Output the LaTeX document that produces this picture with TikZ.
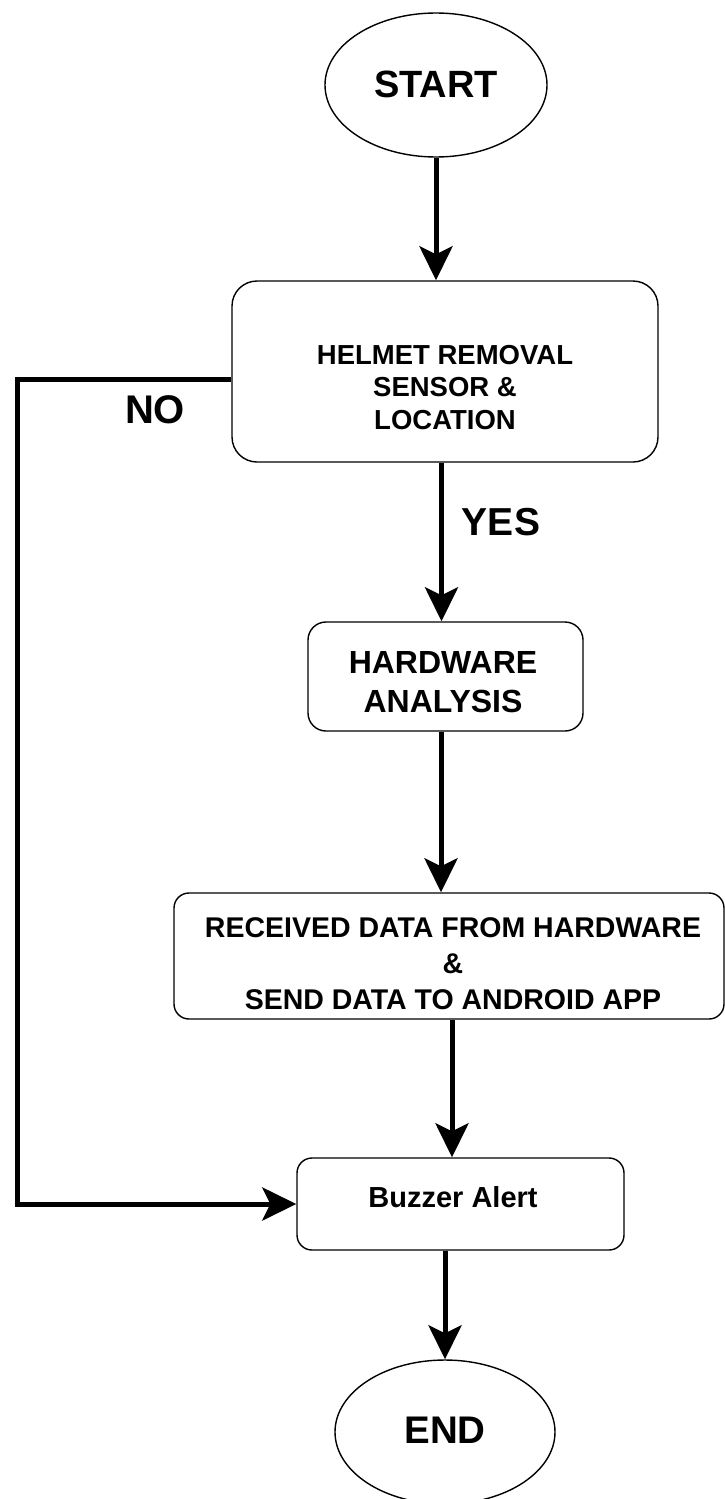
\documentclass[tikz,border=0pt]{standalone}
\usepackage{fontspec}
\setmainfont{Liberation Sans}
\usetikzlibrary{shapes.geometric,arrows.meta}
\begin{document}
\begin{tikzpicture}[x=1pt,y=-1pt,
  flow/.style={line width=5pt, line join=miter,
    -{Stealth[length=34pt,width=33pt,inset=8pt]}},
  term/.style={draw, line width=1.4pt, ellipse, inner sep=0pt},
  procbox/.style={draw, line width=1.4pt, inner sep=0pt},
  txt/.style={inner sep=0pt, align=center, font=\bfseries}
]
\useasboundingbox (0,0) rectangle (725,1499);

% shapes
\node[term, minimum width=222pt, minimum height=144pt] (start) at (436,85) {};
\node[procbox, rounded corners=25pt, minimum width=426pt, minimum height=181pt] (helmet) at (445,371.5) {};
\node[procbox, rounded corners=18pt, minimum width=275pt, minimum height=109pt] (hw) at (445.5,676.5) {};
\node[procbox, rounded corners=15pt, minimum width=550pt, minimum height=126pt] (recv) at (449,956) {};
\node[procbox, rounded corners=15pt, minimum width=327pt, minimum height=92pt] (buzz) at (460.5,1204) {};
\node[term, minimum width=220pt, minimum height=144pt] (end) at (445,1432) {};

% texts
\node[txt, font=\bfseries\fontsize{38}{44}\selectfont] (starttxt) at (436,84) {START};
\node[txt, font=\bfseries\fontsize{27.5}{32.5}\selectfont] (helmettxt) at (445,387.5) {HELMET REMOVAL\\SENSOR \&\\LOCATION};
\node[txt, font=\bfseries\fontsize{32}{39}\selectfont] (hwtxt) at (443,682.5) {HARDWARE\\ANALYSIS};
\node[txt, font=\bfseries\fontsize{28.5}{36}\selectfont] (recvtxt) at (453,964) {RECEIVED DATA FROM HARDWARE\\\&\\SEND DATA TO ANDROID APP};
\node[txt, font=\bfseries\fontsize{29}{34}\selectfont] (buzztxt) at (453,1197) {Buzzer Alert};
\node[txt, font=\bfseries\fontsize{38.5}{44}\selectfont] (endtxt) at (445,1430) {END};
\node[txt, font=\bfseries\fontsize{40}{46}\selectfont] (no) at (155,410) {NO};
\node[txt, font=\bfseries\fontsize{39}{45}\selectfont] (yes) at (501,522) {YES};

% connectors
\coordinate (nobend) at (17,700);
\draw[flow] (start.south) -- (start.south |- helmet.north);
\draw[flow] ([xshift=-3.5pt]helmet.south) -- ([xshift=-3.5pt]helmet.south |- hw.north);
\draw[flow] ([xshift=-4.5pt]hw.south) -- ([xshift=-4.5pt]hw.south |- recv.north);
\draw[flow] ([xshift=3pt]recv.south) -- ([xshift=3pt]recv.south |- buzz.north);
\draw[flow] (end.north |- buzz.south) -- (end.north);
\draw[flow] ([yshift=-7.5pt]helmet.west) -| (nobend) |- (buzz.west);
\end{tikzpicture}
\end{document}
